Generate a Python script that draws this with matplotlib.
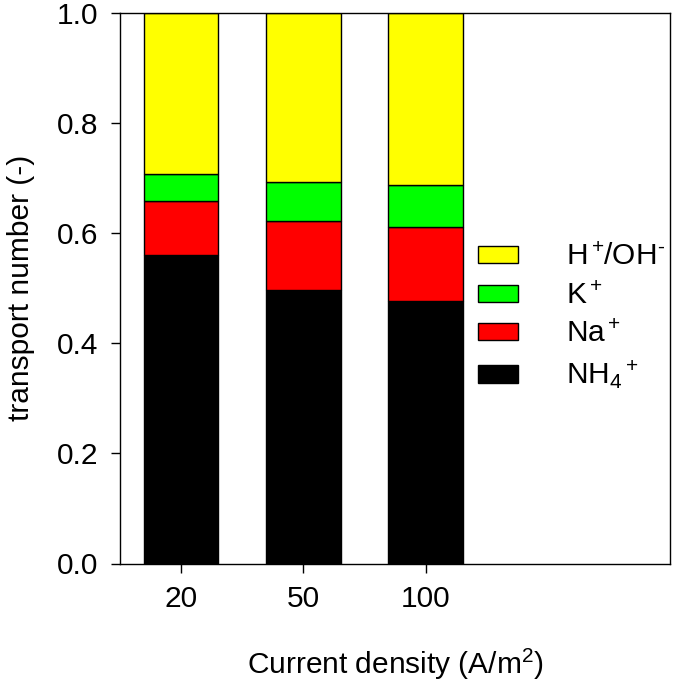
import matplotlib
matplotlib.use("Agg")
import matplotlib.pyplot as plt
import numpy as np

plt.rcParams['font.family'] = ['Liberation Sans', 'DejaVu Sans']
plt.rcParams['mathtext.fontset'] = 'custom'
plt.rcParams['mathtext.rm'] = 'Liberation Sans'
plt.rcParams['mathtext.it'] = 'Liberation Sans:italic'
plt.rcParams['mathtext.bf'] = 'Liberation Sans:bold'

categories = ["20", "50", "100"]
nh4 = [0.560, 0.497, 0.477]
na = [0.098, 0.126, 0.134]
k = [0.050, 0.070, 0.076]
h_oh = [0.292, 0.307, 0.313]

labels = [r"NH$_4$$^+$", r"Na$^+$", r"K$^+$", r"H$^+\!$/OH$^{\text{-}}$"]
colors = ["#000000", "#ff0000", "#00ff00", "#ffff00"]

FS = 21.5

fig = plt.figure(figsize=(6.73, 6.83), dpi=100)
L, R, B, T = 120 / 673, 670 / 673, 1 - 563.5 / 683, 1 - 13 / 683
ax = fig.add_axes([L, B, R - L, T - B])

x = np.arange(len(categories))
bottom = np.zeros(len(categories))
handles = []
for vals, lab, col in zip([nh4, na, k, h_oh], labels, colors):
    b = ax.bar(x, vals, width=0.61, bottom=bottom, color=col, edgecolor="black",
               linewidth=1.0, label=lab)
    handles.append(b)
    bottom += np.array(vals)

ax.set_xlim(-0.5, 4.0)
ax.set_ylim(0, 1.0)
ax.set_xticks(x)
ax.set_xticklabels(categories)
ax.set_yticks(np.arange(0, 1.01, 0.2))
ax.set_yticklabels([f"{v:.1f}" for v in np.arange(0, 1.01, 0.2)])
ax.tick_params(axis='both', labelsize=FS, direction='out', length=6.5, width=1)
ax.tick_params(axis='x', pad=9)
ax.tick_params(axis='y', pad=9)
for s in ax.spines.values():
    s.set_linewidth(1.0)

ax.set_xlabel(r"Current density (A/m$^2$)", fontsize=FS, labelpad=24)
ax.set_ylabel("transport number (-)", fontsize=FS, labelpad=16)

leg = ax.legend(handles[::-1], labels[::-1], loc='center left',
                bbox_to_anchor=(0.651, 0.447), frameon=False, fontsize=FS,
                handlelength=1.34, handleheight=0.5, handletextpad=1.6,
                labelspacing=0.35, borderpad=0, borderaxespad=0)

fig.savefig("out.png", dpi=100)
